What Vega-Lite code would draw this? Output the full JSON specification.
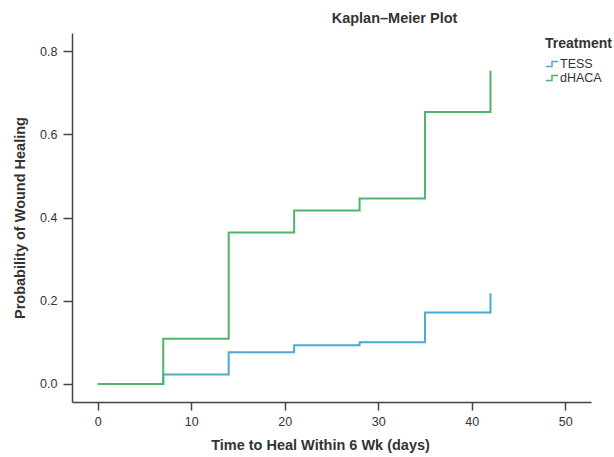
{
  "$schema": "https://vega.github.io/schema/vega-lite/v6.json",
  "width": 519,
  "height": 369,
  "autosize": {"type": "none"},
  "padding": {"left": 72, "top": 33, "right": 23, "bottom": 55},
  "background": "white",
  "title": {
    "text": "Kaplan–Meier Plot",
    "font": "Liberation Sans",
    "fontSize": 14.5,
    "fontWeight": "bold",
    "color": "#333333",
    "anchor": "middle",
    "frame": "group",
    "dx": 63,
    "offset": 7
  },
  "data": {
    "values": [
      {"day": 0, "p": 0.0, "Treatment": "TESS", "o": 1},
      {"day": 7, "p": 0.023, "Treatment": "TESS", "o": 1},
      {"day": 14, "p": 0.076, "Treatment": "TESS", "o": 1},
      {"day": 21, "p": 0.093, "Treatment": "TESS", "o": 1},
      {"day": 28, "p": 0.100, "Treatment": "TESS", "o": 1},
      {"day": 35, "p": 0.172, "Treatment": "TESS", "o": 1},
      {"day": 42, "p": 0.218, "Treatment": "TESS", "o": 1},
      {"day": 0, "p": 0.0, "Treatment": "dHACA", "o": 2},
      {"day": 7, "p": 0.109, "Treatment": "dHACA", "o": 2},
      {"day": 14, "p": 0.364, "Treatment": "dHACA", "o": 2},
      {"day": 21, "p": 0.417, "Treatment": "dHACA", "o": 2},
      {"day": 28, "p": 0.446, "Treatment": "dHACA", "o": 2},
      {"day": 35, "p": 0.654, "Treatment": "dHACA", "o": 2},
      {"day": 42, "p": 0.753, "Treatment": "dHACA", "o": 2}
    ]
  },
  "mark": {"type": "line", "interpolate": "step-after", "strokeWidth": 2},
  "encoding": {
    "x": {
      "field": "day",
      "type": "quantitative",
      "scale": {"domain": [-2.76, 52.75], "nice": false, "zero": false},
      "axis": {
        "title": "Time to Heal Within 6 Wk (days)",
        "values": [0, 10, 20, 30, 40, 50],
        "grid": false,
        "domainColor": "#444444",
        "domainWidth": 1.5,
        "tickColor": "#444444",
        "tickWidth": 1.5,
        "tickSize": 8,
        "labelFont": "Liberation Sans",
        "labelFontSize": 12.5,
        "labelColor": "#333333",
        "labelPadding": 5,
        "titleFont": "Liberation Sans",
        "titleFontSize": 14.5,
        "titleFontWeight": "bold",
        "titleColor": "#333333",
        "titleX": 248,
        "titlePadding": 11
      }
    },
    "y": {
      "field": "p",
      "type": "quantitative",
      "scale": {"domain": [-0.0434, 0.844], "nice": false, "zero": false},
      "axis": {
        "title": "Probability of Wound Healing",
        "values": [0, 0.2, 0.4, 0.6, 0.8],
        "format": ".1f",
        "grid": false,
        "domainColor": "#444444",
        "domainWidth": 1.5,
        "tickColor": "#444444",
        "tickWidth": 1.5,
        "tickSize": 9,
        "labelFont": "Liberation Sans",
        "labelFontSize": 12.5,
        "labelColor": "#333333",
        "labelPadding": 6,
        "titleFont": "Liberation Sans",
        "titleFontSize": 14.5,
        "titleFontWeight": "bold",
        "titleColor": "#333333",
        "titlePadding": 12
      }
    },
    "color": {
      "field": "Treatment",
      "type": "nominal",
      "sort": ["TESS", "dHACA"],
      "scale": {"domain": ["TESS", "dHACA"], "range": ["#4fa8d2", "#4cb567"]},
      "legend": {
        "orient": "none",
        "legendX": 473,
        "legendY": 4,
        "title": "Treatment",
        "titleFont": "Liberation Sans",
        "titleFontSize": 14,
        "titleFontWeight": "bold",
        "titleColor": "#333333",
        "titlePadding": 6,
        "labelFont": "Liberation Sans",
        "labelFontSize": 12.5,
        "labelColor": "#333333",
        "labelOffset": 1,
        "rowPadding": 0,
        "symbolType": "M-1,0.4H0V-0.4H1",
        "symbolSize": 150,
        "symbolStrokeWidth": 1.5,
        "symbolFillColor": "transparent"
      }
    },
    "order": {"field": "o", "type": "quantitative"},
    "detail": {"field": "Treatment"}
  },
  "config": {
    "view": {"stroke": null}
  }
}
